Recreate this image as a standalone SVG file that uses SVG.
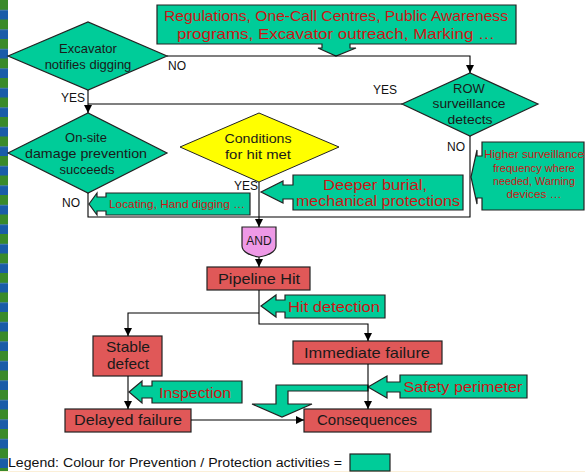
<svg xmlns="http://www.w3.org/2000/svg" width="585" height="472" viewBox="0 0 585 472">
<defs>
<pattern id="stripe" x="0" y="0" width="8" height="19.5" patternUnits="userSpaceOnUse">
<rect x="0" y="0" width="8" height="10" fill="#3a8a2a"/>
<rect x="0" y="10" width="8" height="9.5" fill="#1a5ca8"/>
</pattern>
<marker id="ah" viewBox="0 0 8 8" refX="8" refY="4" markerWidth="8" markerHeight="8" markerUnits="userSpaceOnUse" orient="auto">
<path d="M0,0 L8,4 L0,8 Z" fill="#000"/>
</marker>
<style>
.g{fill:#00cc99;stroke:#222;stroke-width:1.2}
.r{fill:#e05858;stroke:#222;stroke-width:1.2}
.y{fill:#ffff00;stroke:#222;stroke-width:1}
.a{fill:#ee99e6;stroke:#222;stroke-width:1.2}
.c{fill:none;stroke:#000;stroke-width:1.1}
.t{font-family:"Liberation Sans",Arial,sans-serif;fill:#1a1a1a;text-anchor:middle}
.rt{font-family:"Liberation Sans",Arial,sans-serif;fill:#cc1515;text-anchor:middle}
.l{font-family:"Liberation Sans",Arial,sans-serif;fill:#111;font-size:12px}
</style>
</defs>
<rect x="0" y="0" width="585" height="472" fill="#fff"/>
<rect x="0" y="0" width="8" height="472" fill="url(#stripe)"/>
<line x1="0" y1="471.5" x2="585" y2="471.5" stroke="#fbefd8" stroke-width="1"/>

<g id="top-box">
<path class="g" d="M157,5 H516 V44 H350 V48 H356 L336,56 L318,48 H322 V44 H157 Z"/>
<text class="rt" x="336" y="21" font-size="15" textLength="344" lengthAdjust="spacingAndGlyphs">Regulations, One-Call Centres, Public Awareness</text>
<text class="rt" x="336" y="39" font-size="15" textLength="318" lengthAdjust="spacingAndGlyphs">programs, Excavator outreach, Marking …</text>
</g>

<g id="excavator">
<path class="g" d="M8,56 L88,22 L167,56 L88,90 Z"/>
<text class="t" x="88" y="53" font-size="13">Excavator</text>
<text class="t" x="88" y="69" font-size="13">notifies digging</text>
</g>

<g id="row">
<path class="g" d="M402,104 L470,73 L538,104 L470,136 Z"/>
<text class="t" x="469" y="93" font-size="13">ROW</text>
<text class="t" x="469" y="108" font-size="13" textLength="73" lengthAdjust="spacingAndGlyphs">surveillance</text>
<text class="t" x="470" y="124" font-size="13" textLength="45" lengthAdjust="spacingAndGlyphs">detects</text>
</g>

<g id="onsite">
<path class="g" d="M8,153 L88,113 L167,153 L88,193 Z"/>
<text class="t" x="86" y="142" font-size="13">On-site</text>
<text class="t" x="86" y="158" font-size="13" textLength="122" lengthAdjust="spacingAndGlyphs">damage prevention</text>
<text class="t" x="87" y="174" font-size="13">succeeds</text>
</g>

<g id="conditions">
<path class="y" d="M180,147 L259,113 L339,147 L259,182 Z"/>
<text class="t" x="258" y="143" font-size="13" textLength="67" lengthAdjust="spacingAndGlyphs">Conditions</text>
<text class="t" x="258" y="159" font-size="13" textLength="66" lengthAdjust="spacingAndGlyphs">for hit met</text>
</g>

<g id="locating">
<path class="g" d="M89,204 L97,193 L97,197 L106,197 L106,193 L250,193 L250,215 L106,215 L106,211 L97,211 L97,215 Z"/>
<text class="rt" x="177" y="208" font-size="11" textLength="136" lengthAdjust="spacingAndGlyphs">Locating, Hand digging …</text>
</g>

<g id="deeper">
<path class="g" d="M261,192 L283,181 L283,185 L293,185 L293,175 L463,175 L463,210 L293,210 L293,199 L283,199 L283,203 Z"/>
<text class="rt" x="375" y="190" font-size="15.5" textLength="104" lengthAdjust="spacingAndGlyphs">Deeper burial,</text>
<text class="rt" x="378" y="206" font-size="15.5" textLength="164" lengthAdjust="spacingAndGlyphs">mechanical protections</text>
</g>

<g id="higher">
<path class="g" d="M471,177 L477,150 L477,156 L482,156 L482,142 L584,142 L584,210 L482,210 L482,198 L477,198 L477,204 Z"/>
<text class="rt" x="534" y="158" font-size="11" textLength="100" lengthAdjust="spacingAndGlyphs">Higher surveillance</text>
<text class="rt" x="534" y="172" font-size="11" textLength="82" lengthAdjust="spacingAndGlyphs">frequency where</text>
<text class="rt" x="534" y="185" font-size="11" textLength="82" lengthAdjust="spacingAndGlyphs">needed, Warning</text>
<text class="rt" x="534" y="198" font-size="11" textLength="55" lengthAdjust="spacingAndGlyphs">devices …</text>
</g>

<g id="and">
<path class="a" d="M242,227 H276 V246 C276,252 267,256 259,257 C251,256 242,252 242,246 Z"/>
<text class="t" x="259" y="245" font-size="12">AND</text>
</g>

<g id="pipeline-hit">
<rect class="r" x="207" y="267" width="103" height="23"/>
<text class="t" x="259" y="284" font-size="15" textLength="82" lengthAdjust="spacingAndGlyphs">Pipeline Hit</text>
</g>

<g id="hit-detection">
<path class="g" d="M261,306 L276,295 L276,300 L285,300 L285,295 L385,295 L385,318 L285,318 L285,312 L276,312 L276,317 Z"/>
<text class="rt" x="334" y="312" font-size="15" textLength="92" lengthAdjust="spacingAndGlyphs">Hit detection</text>
</g>

<g id="stable">
<rect class="r" x="93" y="336" width="69" height="40"/>
<text class="t" x="128" y="352" font-size="15" textLength="44" lengthAdjust="spacingAndGlyphs">Stable</text>
<text class="t" x="128" y="369" font-size="15" textLength="42" lengthAdjust="spacingAndGlyphs">defect</text>
</g>

<g id="immediate">
<rect class="r" x="293" y="341" width="149" height="23"/>
<text class="t" x="367" y="358" font-size="15" textLength="126" lengthAdjust="spacingAndGlyphs">Immediate failure</text>
</g>

<g id="inspection">
<path class="g" d="M129,392 L142,381 L142,386 L152,386 L152,381 L242,381 L242,403 L152,403 L152,398 L142,398 L142,403 Z"/>
<text class="rt" x="195" y="398" font-size="15" textLength="72" lengthAdjust="spacingAndGlyphs">Inspection</text>
</g>

<g id="bent-arrow">
<path class="g" d="M368,385 L276,385 L276,404 L252,404 L282,417 L312,404 L288,404 L288,391 L368,391 Z"/>
</g>

<g id="safety">
<path class="g" d="M368,387 L387,376 L387,382 L400,382 L400,375 L527,375 L527,398 L400,398 L400,392 L387,392 L387,398 Z"/>
<text class="rt" x="463" y="392" font-size="15" textLength="119" lengthAdjust="spacingAndGlyphs">Safety perimeter</text>
</g>

<g id="delayed">
<rect class="r" x="65" y="409" width="126" height="23"/>
<text class="t" x="128" y="425" font-size="15" textLength="108" lengthAdjust="spacingAndGlyphs">Delayed failure</text>
</g>

<g id="consequences">
<rect class="r" x="304" y="409" width="127" height="23"/>
<text class="t" x="367" y="425" font-size="15" textLength="100" lengthAdjust="spacingAndGlyphs">Consequences</text>
</g>

<g id="connectors">
<path class="c" d="M167,56 H470 V73" marker-end="url(#ah)"/>
<path class="c" d="M88,90 V113" marker-end="url(#ah)"/>
<path class="c" d="M402,104 H88"/>
<path class="c" d="M470,136 V217 H88 V193"/>
<path class="c" d="M259,182 V227" marker-end="url(#ah)"/>
<path class="c" d="M259,257 V267" marker-end="url(#ah)"/>
<path class="c" d="M259,290 V324 H368 V341" marker-end="url(#ah)"/>
<path class="c" d="M259,313 H128 V336" marker-end="url(#ah)"/>
<path class="c" d="M128,376 V409" marker-end="url(#ah)"/>
<path class="c" d="M368,364 V409" marker-end="url(#ah)"/>
<path class="c" d="M191,420 H304" marker-end="url(#ah)"/>
</g>

<g id="labels">
<text class="l" x="168" y="70">NO</text>
<text class="l" x="373" y="94">YES</text>
<text class="l" x="61" y="102">YES</text>
<text class="l" x="447" y="151">NO</text>
<text class="l" x="234" y="190">YES</text>
<text class="l" x="62" y="207">NO</text>
</g>

<g id="legend">
<text class="l" x="8" y="467" font-size="12.5" textLength="334" lengthAdjust="spacingAndGlyphs">Legend: Colour for Prevention / Protection activities =</text>
<rect class="g" x="350" y="454" width="40" height="17"/>
</g>
</svg>
